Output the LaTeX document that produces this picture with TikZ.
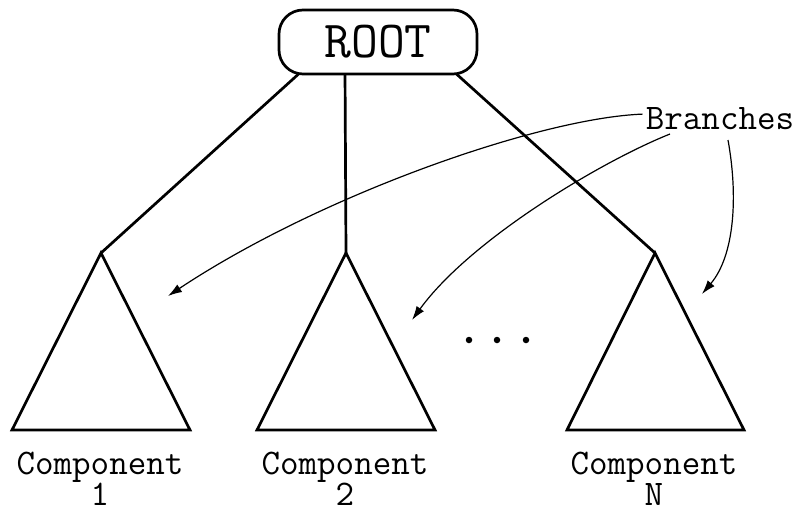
\documentclass[tikz,border=0pt]{standalone}
\usetikzlibrary{arrows.meta}
\begin{document}
\begin{tikzpicture}[x=1pt,y=-1pt,
  thick line/.style={line width=2.7pt,line join=miter},
  tri/.style={line width=2.7pt,line join=miter},
  lbl/.style={font=\ttfamily\fontsize{36}{31}\selectfont,align=center,inner sep=0pt},
  ptr/.style={line width=1.2pt,-{Latex[length=14pt,width=9pt]}},
  dot/.style={circle,fill=black,inner sep=0pt,minimum size=6.5pt}]
\useasboundingbox (0,0) rectangle (801,509);
% apexes of components
\coordinate (a1) at (101,253);
\coordinate (a2) at (346,253);
\coordinate (a3) at (655,253);
% connectors from root
\coordinate (r1) at (303,70);
\coordinate (r2) at (345,70);
\coordinate (r3) at (452,70);
\draw[thick line] (r1) -- (a1);
\draw[thick line] (r2) -- (a2);
\draw[thick line] (r3) -- (a3);
\node[draw,fill=white,line width=2.7pt,rounded corners=24pt,minimum width=198pt,minimum height=64pt,
  font=\ttfamily\fontsize{52}{52}\selectfont] (root) at (378,42) {ROOT};
% triangles
\draw[tri] (a1) -- (12,430) -- (190,430) -- cycle;
\draw[tri] (a2) -- (257,430) -- (435,430) -- cycle;
\draw[tri] (a3) -- (567,430) -- (744,430) -- cycle;
% labels
\node[lbl,anchor=base] (c1) at (100,505) {Component\\1};
\node[lbl,anchor=base] (c2) at (345,505) {Component\\2};
\node[lbl,anchor=base] (c3) at (654,505) {Component\\N};
% dots
\node[dot] (d1) at (469,340) {};
\node[dot] (d2) at (497,340) {};
\node[dot] (d3) at (526,340) {};
% branches
\node[lbl,anchor=base] (br) at (720,129) {Branches};
\coordinate (e1) at (168,296);
\coordinate (e2) at (412,320);
\coordinate (e3) at (702,294);
\draw[ptr] (br.west) ++(-3,-4) .. controls (540,118) and (320,195) .. (e1);
\draw[ptr] (670,134) .. controls (600,162) and (470,240) .. (e2);
\draw[ptr] (728,140) .. controls (738,195) and (735,255) .. (e3);
\end{tikzpicture}
\end{document}
